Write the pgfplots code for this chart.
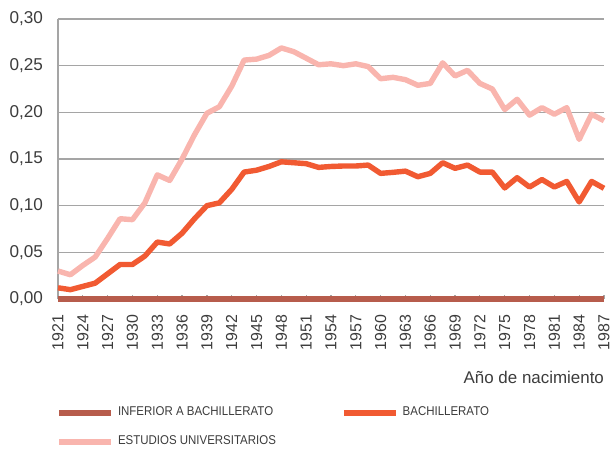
\documentclass[border=0pt]{standalone}
\usepackage{fontspec}
\setmainfont{Liberation Sans}
\newfontfamily\legfont[FakeStretch=0.9]{Liberation Sans}
\usepackage{pgfplots}
\pgfplotsset{compat=1.18}
\usepackage{pgfplotstable}

\definecolor{cinf}{RGB}{183,92,76}
\definecolor{cbach}{RGB}{241,90,50}
\definecolor{cuni}{RGB}{249,181,174}
\definecolor{cgrid}{RGB}{165,165,165}
\definecolor{ctext}{RGB}{60,60,60}

% year, inferior a bachillerato, bachillerato, estudios universitarios
\pgfplotstableread{
year   inf  bach    uni
1921   0    0.012   0.030
1922.5 0    0.010   0.026
1924   0    0.0135  0.036
1925.5 0    0.017   0.045
1927   0    0.027   0.065
1928.5 0    0.037   0.086
1930   0    0.037   0.085
1931.5 0    0.046   0.103
1933   0    0.061   0.133
1934.5 0    0.059   0.127
1936   0    0.0705  0.150
1937.5 0    0.086   0.176
1939   0    0.100   0.199
1940.5 0    0.103   0.206
1942   0    0.1175  0.228
1943.5 0    0.136   0.256
1945   0    0.138   0.257
1946.5 0    0.142   0.261
1948   0    0.147   0.269
1949.5 0    0.146   0.265
1951   0    0.145   0.258
1952.5 0    0.141   0.251
1954   0    0.142   0.252
1955.5 0    0.1425  0.250
1957   0    0.1425  0.252
1958.5 0    0.1435  0.249
1960   0    0.1346  0.236
1961.5 0    0.1357  0.2375
1963   0    0.137   0.235
1964.5 0    0.131   0.229
1966   0    0.1346  0.231
1967.5 0    0.146   0.253
1969   0    0.140   0.239
1970.5 0    0.1435  0.245
1972   0    0.136   0.231
1973.5 0    0.136   0.225
1975   0    0.119   0.203
1976.5 0    0.130   0.214
1978   0    0.120   0.197
1979.5 0    0.128   0.205
1981   0    0.120   0.198
1982.5 0    0.126   0.205
1984   0    0.104   0.171
1985.5 0    0.126   0.198
1987   0    0.1186  0.191
}\datatable

\begin{document}
\begin{tikzpicture}
\path[use as bounding box] (-29bp,-76bp) rectangle (277bp,149.5bp);
\begin{axis}[
    scale only axis,
    width=273bp,
    height=140bp,
    xmin=1921, xmax=1987,
    ymin=0, ymax=0.30,
    xtick={1921,1924,...,1987},
    ytick={0,0.05,...,0.31},
    axis lines*=left,
    axis line style={cgrid, line width=0.7bp},
    tick align=inside,
    major tick length=2bp,
    tick style={cgrid, line width=0.6bp},
    ymajorgrids,
    grid style={cgrid, line width=0.6bp},
    clip=false,
    /pgf/number format/assume math mode=true,
    yticklabel style={font=\fontsize{8.6}{9}\selectfont, text=ctext, xshift=-4bp,
      /pgf/number format/.cd, fixed, fixed zerofill, precision=2, use comma},
    xticklabel style={font=\fontsize{8.0}{9}\selectfont, text=ctext, rotate=90,
      anchor=east, xshift=-4.5bp, /pgf/number format/1000 sep={}},
    xlabel={Año de nacimiento},
    xlabel style={at={(1,0)}, anchor=east, yshift=-39bp, xshift=3.5bp,
      font=\fontsize{8.5}{10}\selectfont, text=ctext},
    legend columns=2,
    legend cell align=left,
    legend style={at={(-0.004,-0.37)}, anchor=north west, draw=none, fill=none,
      font=\legfont\fontsize{6.4}{7.5}\selectfont, text=ctext, inner sep=0pt,
      row sep=4.5bp,
      /tikz/every even column/.append style={column sep=30.5bp}},
    legend image code/.code={\draw[#1, line width=2.9bp] (0bp,0bp) -- (26bp,0bp);},
]
\addplot[cinf, line width=2.7bp] table[x=year, y=inf] {\datatable};
\addlegendentry{INFERIOR A BACHILLERATO}
\addplot[cbach, line width=2.7bp, line join=round] table[x=year, y=bach] {\datatable};
\addlegendentry{BACHILLERATO}
\addplot[cuni, line width=2.7bp, line join=round] table[x=year, y=uni] {\datatable};
\addlegendentry{ESTUDIOS UNIVERSITARIOS}
\end{axis}
\end{tikzpicture}
\end{document}
